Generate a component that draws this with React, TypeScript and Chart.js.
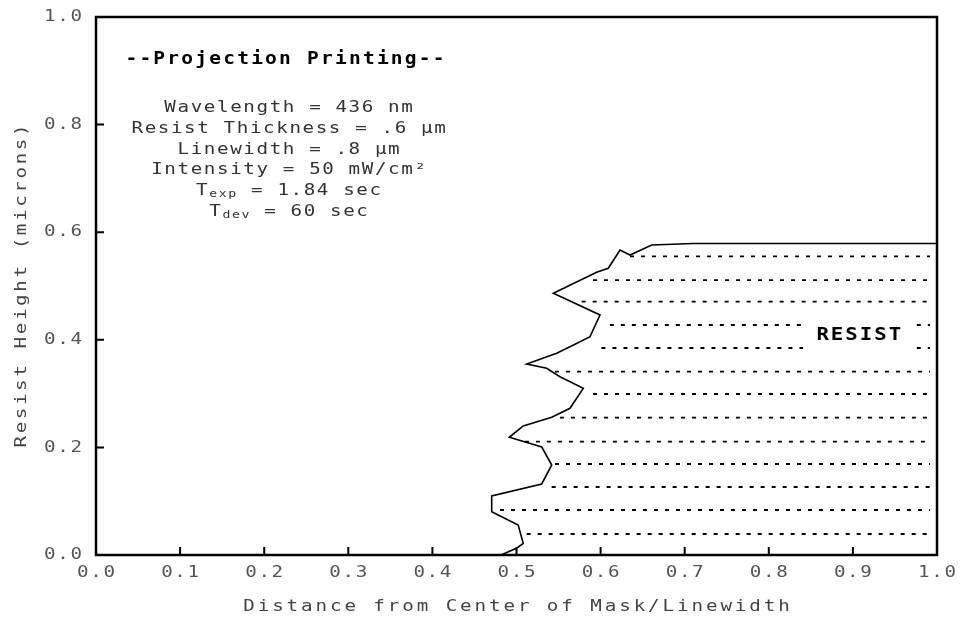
import React, { useEffect, useRef } from "react";
import { Chart, registerables } from "chart.js";

Chart.register(...registerables);

// ---- data ----
const xTicks = [0, 0.1, 0.2, 0.3, 0.4, 0.5, 0.6, 0.7, 0.8, 0.9, 1.0];
const xTickLabels = ["0.0", "0.1", "0.2", "0.3", "0.4", "0.5", "0.6", "0.7", "0.8", "0.9", "1.0"];
const yTicks = [0, 0.2, 0.4, 0.6, 0.8, 1.0];
const yTickLabels = ["0.0", "0.2", "0.4", "0.6", "0.8", "1.0"];

const xTitle = "Distance from Center of Mask/Linewidth";
const yTitle = "Resist Height (microns)";
const plotTitle = "--Projection Printing--";
const resistLabel = "RESIST";

// resist edge profile (x = distance / linewidth, y = height in microns)
const profileX = [0.4816, 0.5006, 0.508, 0.502, 0.4705, 0.4705, 0.53, 0.5419, 0.53, 0.4914, 0.508, 0.5419, 0.5636, 0.5794, 0.5517, 0.5359, 0.5121, 0.5478, 0.5696, 0.5874, 0.5993, 0.5438, 0.5953, 0.6091, 0.6231, 0.635, 0.6607, 0.71, 1.0];
const profileY = [0, 0.013, 0.0217, 0.0558, 0.0805, 0.1097, 0.132, 0.1673, 0.2007, 0.2188, 0.2398, 0.256, 0.2727, 0.3098, 0.3314, 0.347, 0.355, 0.3749, 0.3916, 0.4058, 0.4461, 0.4864, 0.5255, 0.5329, 0.5669, 0.5576, 0.5762, 0.579, 0.579];

// dashed hatch lines inside the resist
const hatchLevels = [0.039, 0.0836, 0.1264, 0.1691, 0.2106, 0.2552, 0.2993, 0.3407, 0.3848, 0.4275, 0.4708, 0.511, 0.555];
const hatchStarts = [0.5121, 0.4804, 0.5418, 0.5458, 0.51, 0.5517, 0.591, 0.5458, 0.601, 0.611, 0.5775, 0.591, 0.635];
const hatchEnd = 0.9917;
const labelGapLevels = [0.3848, 0.4275];
const labelGap = [0.8407, 0.976];
const resistLabelPos = [0.907, 0.409];

// parameter block
const titlePos = [0.2247, 0.92];
const paramCenterX = 0.229;
const paramLevels = [0.8309, 0.7918, 0.7537, 0.7156, 0.6766, 0.6375];

type Run = { t: string; font: string; dy: number };

const MONO = '"DejaVu Sans Mono", monospace';
const REG = `16px ${MONO}`;
const SUB = `11px ${MONO}`;
const HS = 1.2;

const paramLines: Run[][] = [
  [{ t: "Wavelength = 436 nm", font: REG, dy: 0 }],
  [{ t: "Resist Thickness = .6 μm", font: REG, dy: 0 }],
  [{ t: "Linewidth = .8 μm", font: REG, dy: 0 }],
  [{ t: "Intensity = 50 mW/cm²", font: REG, dy: 0 }],
  [
    { t: "T", font: REG, dy: 0 },
    { t: "exp", font: SUB, dy: 3 },
    { t: " = 1.84 sec", font: REG, dy: 0 },
  ],
  [
    { t: "T", font: REG, dy: 0 },
    { t: "dev", font: SUB, dy: 3 },
    { t: " = 60 sec", font: REG, dy: 0 },
  ],
];

function runsWidth(ctx: CanvasRenderingContext2D, runs: Run[], sp: number, hs: number) {
  let w = 0;
  let n = 0;
  for (const r of runs) {
    ctx.font = r.font;
    for (const ch of r.t) {
      w += ctx.measureText(ch).width * hs + sp;
      n++;
    }
  }
  return n > 0 ? w - sp : 0;
}

function drawRuns(ctx: CanvasRenderingContext2D, runs: Run[], cx: number, cy: number, sp: number, hs: number, align: "center" | "right" = "center") {
  const w = runsWidth(ctx, runs, sp, hs);
  let x = align === "center" ? cx - w / 2 : cx - w;
  ctx.textAlign = "left";
  ctx.textBaseline = "middle";
  for (const r of runs) {
    ctx.font = r.font;
    for (const ch of r.t) {
      ctx.save();
      ctx.translate(x, cy + r.dy);
      ctx.scale(hs, 1);
      ctx.fillText(ch, 0, 0);
      ctx.restore();
      x += ctx.measureText(ch).width * hs + sp;
    }
  }
}

const decorPlugin = {
  id: "decor",
  afterDraw(chart: any) {
    const ctx: CanvasRenderingContext2D = chart.ctx;
    const xs = chart.scales.x;
    const ys = chart.scales.y;
    const a = chart.chartArea;
    ctx.save();
    // frame
    ctx.strokeStyle = "#000";
    ctx.lineWidth = 2.5;
    ctx.strokeRect(a.left, a.top, a.right - a.left, a.bottom - a.top);
    // inward ticks
    ctx.lineWidth = 2;
    ctx.beginPath();
    for (const v of xTicks) {
      if (v <= 0 || v >= 1) continue;
      const px = xs.getPixelForValue(v);
      ctx.moveTo(px, a.bottom);
      ctx.lineTo(px, a.bottom - 8);
    }
    for (const v of yTicks) {
      if (v <= 0 || v >= 1) continue;
      const py = ys.getPixelForValue(v);
      ctx.moveTo(a.left, py);
      ctx.lineTo(a.left + 8, py);
    }
    ctx.stroke();

    // tick labels
    ctx.fillStyle = "#555";
    xTicks.forEach((v, i) => {
      drawRuns(ctx, [{ t: xTickLabels[i], font: REG, dy: 0 }], xs.getPixelForValue(v), a.bottom + 18, 1.6, HS);
    });
    yTicks.forEach((v, i) => {
      drawRuns(ctx, [{ t: yTickLabels[i], font: REG, dy: 0 }], a.left - 14, ys.getPixelForValue(v), 1.6, HS, "right");
    });

    // axis titles
    ctx.fillStyle = "#444";
    drawRuns(ctx, [{ t: xTitle, font: REG, dy: 0 }], (a.left + a.right) / 2, 607, 2.9, HS);
    ctx.save();
    ctx.translate(22, (a.top + a.bottom) / 2);
    ctx.rotate(-Math.PI / 2);
    drawRuns(ctx, [{ t: yTitle, font: REG, dy: 0 }], 0, 0, 2.6, HS);
    ctx.restore();

    // annotation block
    ctx.fillStyle = "#000";
    drawRuns(ctx, [{ t: plotTitle, font: `bold 17px ${MONO}`, dy: 0 }], xs.getPixelForValue(titlePos[0]), ys.getPixelForValue(titlePos[1]), 2.2, 1.15);
    ctx.fillStyle = "#333";
    paramLines.forEach((runs, i) => {
      drawRuns(ctx, runs, xs.getPixelForValue(paramCenterX), ys.getPixelForValue(paramLevels[i]), 1.6, HS);
    });
    ctx.fillStyle = "#000";
    drawRuns(ctx, [{ t: resistLabel, font: `bold 18px ${MONO}`, dy: 0 }], xs.getPixelForValue(resistLabelPos[0]), ys.getPixelForValue(resistLabelPos[1]), 2.0, 1.15);
    ctx.restore();
  },
};

function buildDatasets() {
  const ds: any[] = [];
  ds.push({
    label: "profile",
    data: profileX.map((x, i) => ({ x, y: profileY[i] })),
    showLine: true,
    borderColor: "#000",
    borderWidth: 1.6,
    pointRadius: 0,
    tension: 0,
    fill: false,
  });
  hatchLevels.forEach((y, i) => {
    const segs: [number, number][] = labelGapLevels.includes(y)
      ? [
          [hatchStarts[i], labelGap[0]],
          [labelGap[1], hatchEnd],
        ]
      : [[hatchStarts[i], hatchEnd]];
    segs.forEach(([x0, x1]) => {
      ds.push({
        label: "hatch",
        data: [
          { x: x0, y },
          { x: x1, y },
        ],
        showLine: true,
        borderColor: "#000",
        borderWidth: 1.8,
        borderDash: [4, 7],
        pointRadius: 0,
        fill: false,
      });
    });
  });
  return ds;
}

export default function App() {
  const ref = useRef<HTMLCanvasElement | null>(null);
  useEffect(() => {
    if (!ref.current) return;
    const chart = new Chart(ref.current, {
      type: "scatter",
      data: { datasets: buildDatasets() },
      options: {
        animation: false,
        responsive: false,
        devicePixelRatio: 1,
        events: [],
        layout: { padding: { left: 96, top: 17, right: 26, bottom: 73 } },
        scales: {
          x: { type: "linear", min: 0, max: 1, display: false },
          y: { type: "linear", min: 0, max: 1, display: false },
        },
        plugins: { legend: { display: false }, tooltip: { enabled: false } },
      } as any,
      plugins: [decorPlugin],
    });
    return () => chart.destroy();
  }, []);
  return (
    <div style={{ position: "absolute", left: 0, top: 0, width: 963, height: 628, background: "#fff" }}>
      <canvas ref={ref} width={963} height={628} />
    </div>
  );
}
